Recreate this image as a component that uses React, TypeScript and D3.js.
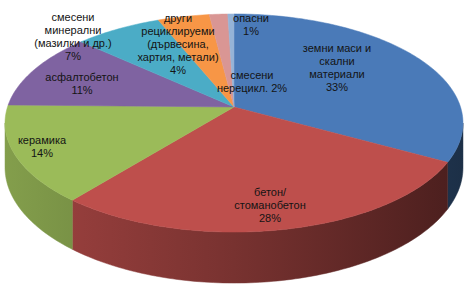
import React from "react";
import * as d3 from "d3";

// ---- data ----
const categories: string[] = [
  "земни маси и\nскални\nматериали",
  "бетон/\nстоманобетон",
  "керамика",
  "асфалтобетон",
  "смесени\nминерални\n(мазилки и др.)",
  "други\nрециклируеми\n(дървесина,\nхартия, метали)",
  "смесени\nнерецикл.",
  "опасни",
];
const values: number[] = [33.0, 27.9, 14.4, 11.4, 7.1, 4.2, 1.5, 0.5];
const pctInline: boolean[] = [false, false, false, false, false, false, true, false];

// ---- style / layout ----
const colors = ["#4a7ab8", "#be4f4c", "#9bbb59", "#7f63a1", "#4bacc6", "#f79646", "#d99694", "#95b3d7"];
const labelAnchors: [number, number][] = [
  [337, 48],
  [270, 192],
  [42, 140],
  [82, 77],
  [73, 17],
  [178, 18],
  [252, 75],
  [251, 18],
];

const W = 467;
const H = 288;
const CX = 234;
const CY = 107;
const RX = 226.5;
const RY = 106.7;
const K = -0.1468;
const DEPTH = 43.5;

function proj(theta: number, r = 1, depth = 0): [number, number] {
  const u = r * Math.sin(theta);
  const v = -r * Math.cos(theta);
  const den = 1 + K * v;
  return [CX + (RX * u) / den, CY + (RY * v) / den + (depth * DEPTH) / den];
}

function arcPoints(a0: number, a1: number, depth = 0): [number, number][] {
  const n = Math.max(2, Math.ceil(((a1 - a0) / (Math.PI * 2)) * 360));
  const pts: [number, number][] = [];
  for (let i = 0; i <= n; i++) pts.push(proj(a0 + ((a1 - a0) * i) / n, 1, depth));
  return pts;
}

export default function App() {
  const arcs = d3.pie<number>().sort(null).value((d) => d)(values);
  const line = d3.line<[number, number]>();
  // visible side range: between the right and left tangent points of the rim
  const visStart = Math.acos(K);
  const visEnd = 2 * Math.PI - Math.acos(K);

  const sides = arcs
    .map((a, i) => {
      const s = Math.max(a.startAngle, visStart);
      const e = Math.min(a.endAngle, visEnd);
      if (e <= s) return null;
      const top = arcPoints(s, e, 0);
      const bot = arcPoints(s, e, 1).reverse();
      return { i, d: line([...top, ...bot]) + "Z" };
    })
    .filter(Boolean) as { i: number; d: string }[];

  const apex = proj(0, 0);
  const tops = arcs.map((a, i) => ({ i, d: line([apex, ...arcPoints(a.startAngle, a.endAngle, 0)]) + "Z" }));

  const shade = (c: string, k: number) => (d3.color(c) as d3.RGBColor).darker(k).formatHex();

  return (
    <svg width={W} height={H} style={{ position: "absolute", left: 0, top: 0, background: "#fff" }}>
      <defs>
        {colors.map((c, i) => (
          <linearGradient key={i} id={`side${i}`} gradientUnits="userSpaceOnUse" x1={0} y1={0} x2={W} y2={0}>
            <stop offset="0%" stopColor={shade(c, 0.45)} />
            <stop offset="50%" stopColor={shade(c, 1.3)} />
            <stop offset="100%" stopColor={shade(c, 2.7)} />
          </linearGradient>
        ))}
      </defs>
      {sides.map((s) => (
        <path key={"s" + s.i} d={s.d} fill={`url(#side${s.i})`} stroke={`url(#side${s.i})`} strokeWidth={0.5} />
      ))}
      {tops.map((t) => (
        <path key={"t" + t.i} d={t.d} fill={colors[t.i]} stroke={colors[t.i]} strokeWidth={0.5} />
      ))}
      {categories.map((name, i) => {
        const pct = Math.round(values[i]) + "%";
        const lines = name.split("\n");
        if (pctInline[i]) lines[lines.length - 1] += " " + pct;
        else lines.push(pct);
        const [x, y] = labelAnchors[i];
        return (
          <text
            key={"l" + i}
            x={x}
            y={y}
            textAnchor="middle"
            fontFamily="'Liberation Sans', Arial, sans-serif"
            fontSize={11}
            fill="#141414"
          >
            {lines.map((ln, j) => (
              <tspan key={j} x={x} dy={j === 0 ? "0.35em" : 13}>
                {ln}
              </tspan>
            ))}
          </text>
        );
      })}
    </svg>
  );
}
